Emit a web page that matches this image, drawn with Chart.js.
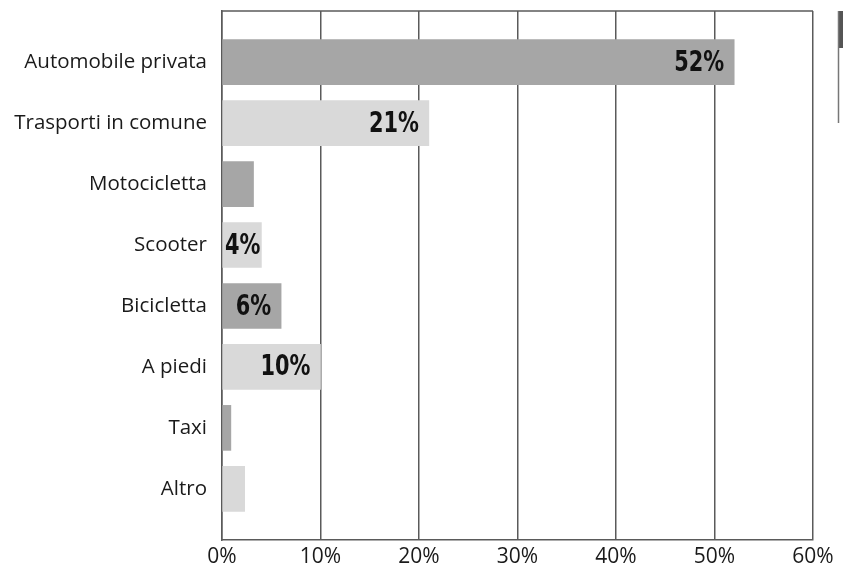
<!DOCTYPE html>
<html>
<head>
<meta charset="utf-8">
<script src="https://cdn.jsdelivr.net/npm/chart.js@4"></script>
<style>
  html, body { margin: 0; padding: 0; background: #fff; }
  #wrap { width: 843px; height: 571px; }
</style>
</head>
<body>
<div id="wrap"><canvas id="myChart" width="843" height="571"></canvas></div>
<script>
// mezzi di trasporto e quote
var categories = ['Automobile privata', 'Trasporti in comune', 'Motocicletta', 'Scooter', 'Bicicletta', 'A piedi', 'Taxi', 'Altro'];
var values = [52, 21, 3.2, 4, 6, 10, 0.9, 2.3];
var valueLabels = ['52%', '21%', null, '4%', '6%', '10%', null, null];
var xTicks = [0, 10, 20, 30, 40, 50, 60];

var dark = '#a6a6a6';
var light = '#d9d9d9';
var barColors = categories.map(function (c, i) { return i % 2 === 0 ? dark : light; });

// cornice dell'area e segno sul bordo destro
var framePlugin = {
  id: 'frame',
  afterDraw: function (chart) {
    var ctx = chart.ctx;
    var a = chart.chartArea;
    ctx.save();
    ctx.strokeStyle = '#5a5a5a';
    ctx.lineWidth = 1.5;
    ctx.beginPath();
    ctx.moveTo(a.left, a.top);
    ctx.lineTo(a.right, a.top);
    ctx.stroke();
    ctx.fillStyle = '#555';
    ctx.fillRect(838, a.top, 6, 37);
    ctx.strokeStyle = '#777';
    ctx.lineWidth = 1.5;
    ctx.beginPath();
    ctx.moveTo(838.5, a.top);
    ctx.lineTo(838.5, 123);
    ctx.stroke();
    ctx.restore();
  }
};

// etichette dentro le barre (carattere stretto)
var squeeze = 0.8;
var valuePlugin = {
  id: 'values',
  afterDatasetsDraw: function (chart) {
    var ctx = chart.ctx;
    var meta = chart.getDatasetMeta(0);
    var left = chart.chartArea.left;
    ctx.save();
    ctx.font = 'bold 29px "DejaVu Sans Condensed", "DejaVu Sans", sans-serif';
    ctx.fillStyle = '#111';
    ctx.textBaseline = 'middle';
    ctx.textAlign = 'left';
    meta.data.forEach(function (bar, i) {
      var txt = valueLabels[i];
      if (!txt) return;
      var w = ctx.measureText(txt).width * squeeze;
      var x = bar.x - 10 - w;
      if (x < left + 3) x = left + 3;
      ctx.save();
      ctx.translate(x, bar.y + 1);
      ctx.scale(squeeze, 1);
      ctx.fillText(txt, 0, 0);
      ctx.restore();
    });
    ctx.restore();
  }
};

var ctx = document.getElementById('myChart').getContext('2d');
var myChart = new Chart(ctx, {
  type: 'bar',
  data: {
    datasets: [{
      data: values.map(function (v, i) { return { x: v, y: i }; }),
      backgroundColor: barColors,
      borderWidth: 0,
      barThickness: 45
    }]
  },
  options: {
    indexAxis: 'y',
    responsive: false,
    animation: false,
    layout: { padding: { top: 11, right: 30, left: 0, bottom: 0 } },
    plugins: { legend: { display: false }, tooltip: { enabled: false } },
    scales: {
      x: {
        type: 'linear',
        min: 0,
        max: 60,
        afterBuildTicks: function (scale) {
          scale.ticks = xTicks.map(function (v) { return { value: v }; });
        },
        afterFit: function (scale) { scale.height = 31; },
        grid: { color: '#5a5a5a', lineWidth: 1.5, drawTicks: false },
        border: { color: '#5a5a5a', width: 1.5 },
        ticks: {
          color: '#1a1a1a',
          padding: 4,
          font: { family: '"Open Sans", sans-serif', size: 21 },
          callback: function (v) { return v + '%'; }
        }
      },
      y: {
        type: 'linear',
        reverse: true,
        offset: false,
        min: -0.84,
        max: 7.84,
        afterBuildTicks: function (scale) {
          scale.ticks = categories.map(function (c, i) { return { value: i }; });
        },
        afterFit: function (scale) {
          scale.width = 222;
          scale.paddingTop = 0;
          scale.paddingBottom = 0;
        },
        grid: { display: false },
        border: { color: '#5a5a5a', width: 1.5 },
        ticks: {
          color: '#1a1a1a',
          padding: 7,
          font: { family: '"Open Sans", sans-serif', size: 20.5 },
          callback: function (v) { return categories[v]; }
        }
      }
    }
  },
  plugins: [framePlugin, valuePlugin]
});
</script>
</body>
</html>
